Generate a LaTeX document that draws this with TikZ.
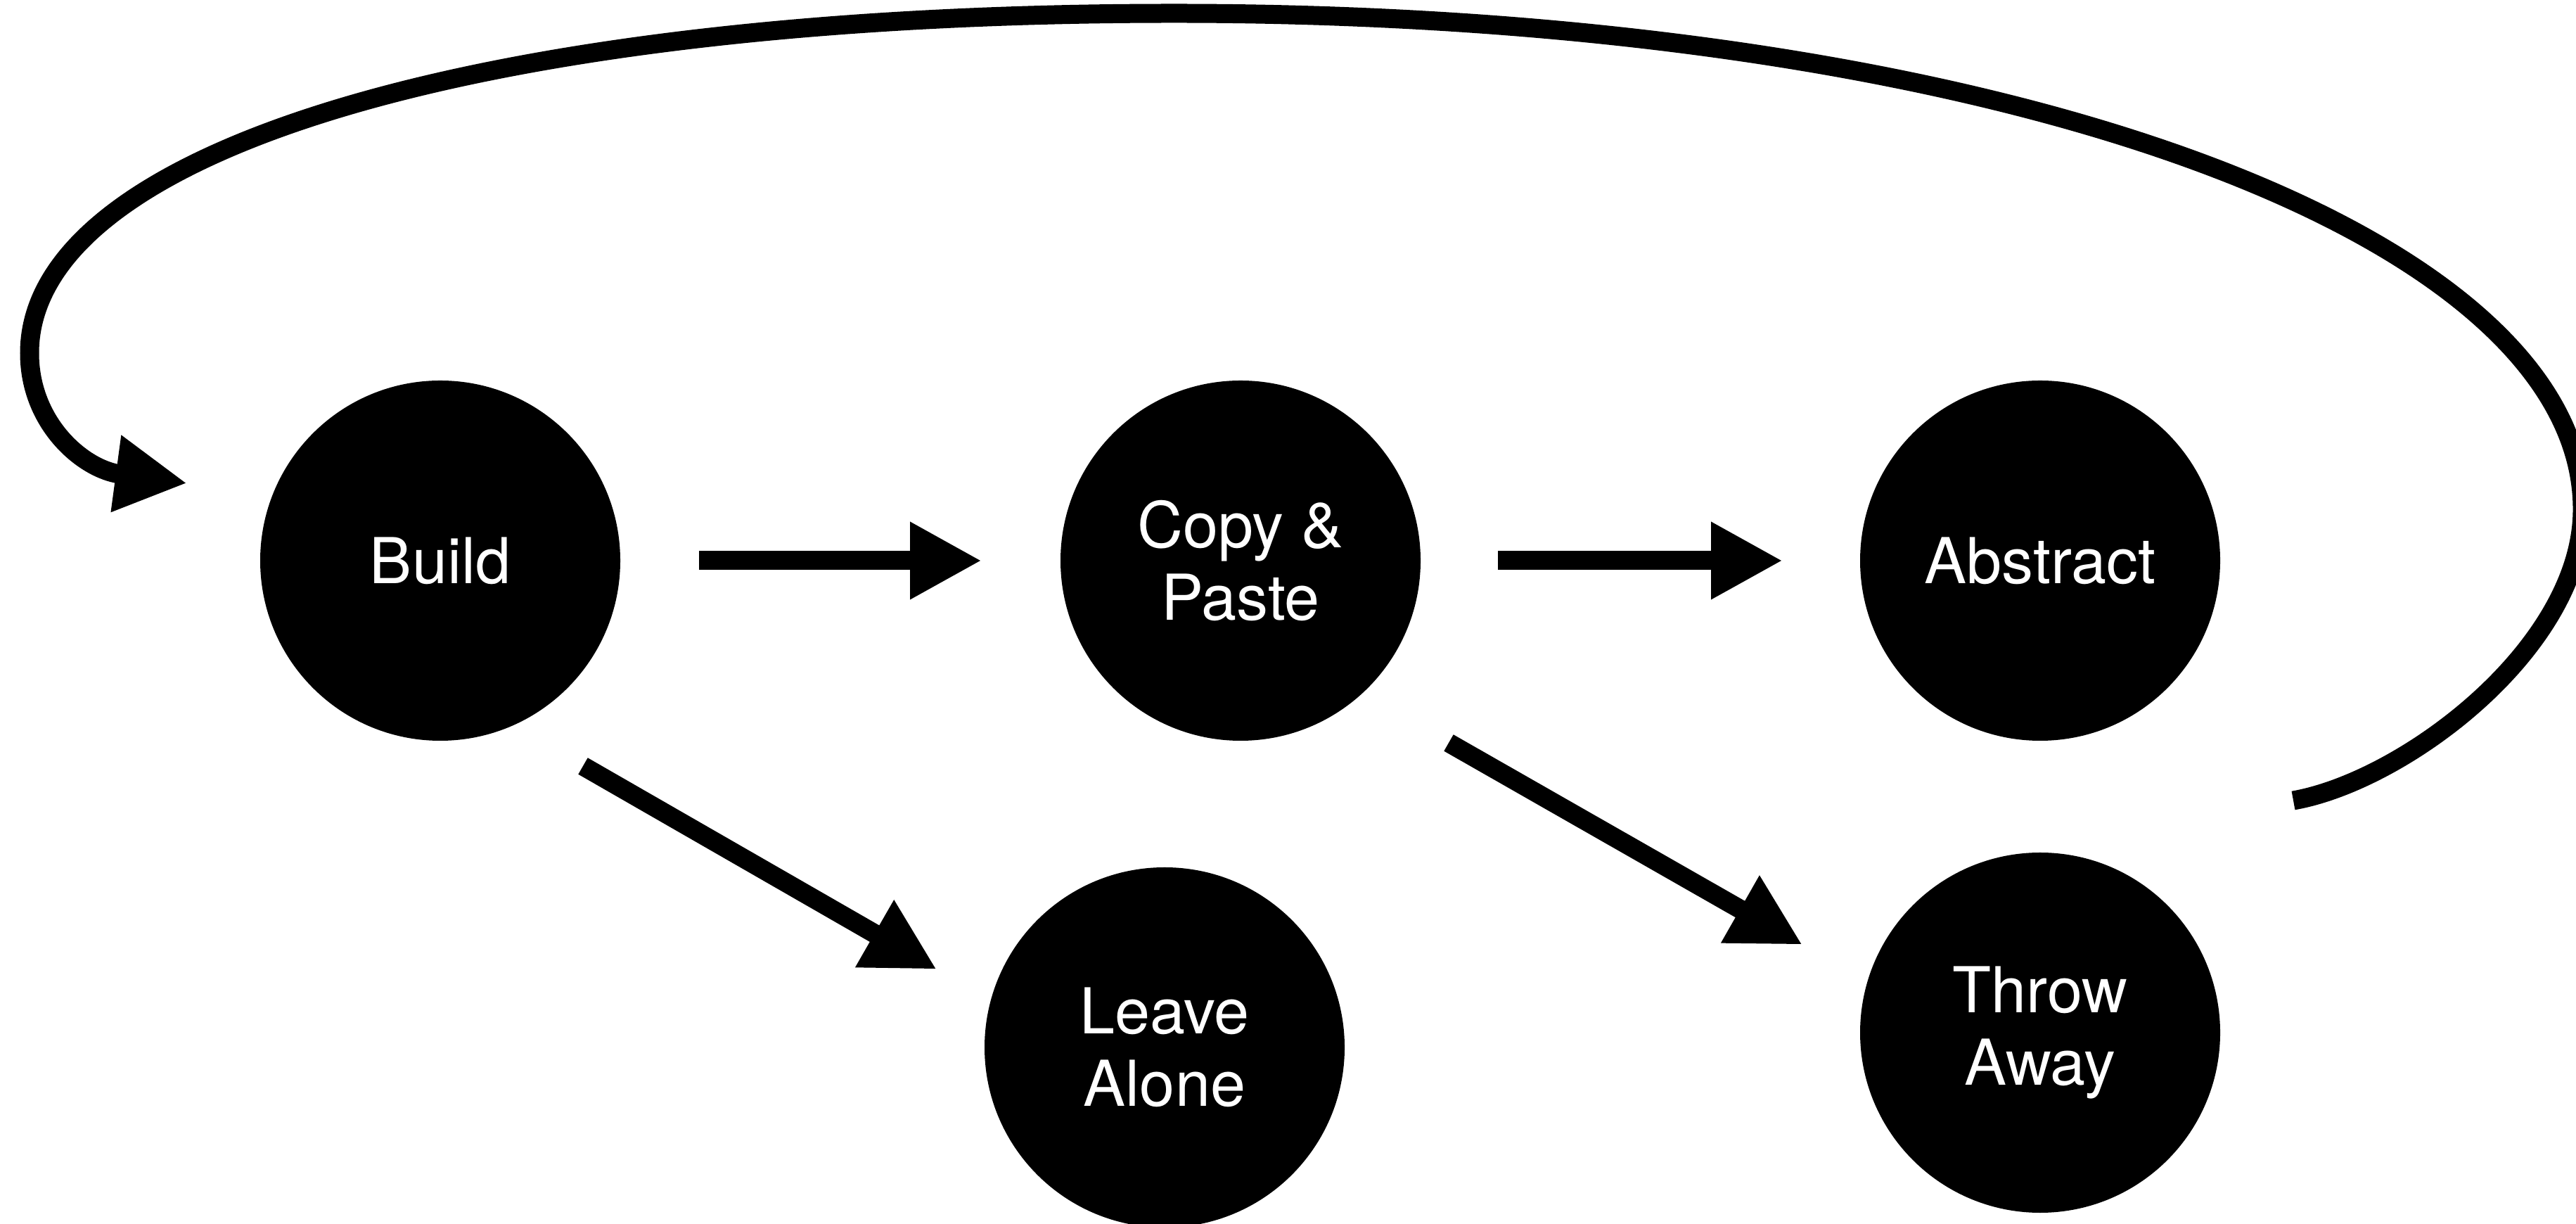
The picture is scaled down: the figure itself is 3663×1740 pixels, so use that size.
\documentclass[tikz,border=0pt]{standalone}
\usepackage{fontspec}
\setmainfont{TeX Gyre Heros}
\usetikzlibrary{arrows.meta,calc}
\begin{document}
\begin{tikzpicture}[x=0.2pt,y=-0.2pt,
  stage/.style={circle, fill=black, text=white, minimum size=102.4pt, inner sep=0pt, outer sep=0pt, align=center, font=\fontsize{18pt}{20.6pt}\selectfont},
  flow/.style={line width=5.4pt, -{Triangle[length=20.4pt,width=20.6pt]}},
  ]
\useasboundingbox (0,0) rectangle (3663,1740);
\node[stage] (build) at (626,797) {Build};
\node[stage] (copy) at (1764,797) {Copy \&\\Paste};
\node[stage] (abstract) at (2901,797) {Abstract};
\node[stage] (leave) at (1656,1489) {Leave\\Alone};
\node[stage] (throw) at (2901,1468) {Throw\\Away};

\draw[flow, shorten <=22.4pt, shorten >=22.4pt] (build.east) -- (copy.west);
\draw[flow, shorten <=22pt, shorten >=22pt] (copy.east) -- (abstract.west);
\draw[flow] ($(build)+(203,292)$) -- ($(leave)+(-324,-111)$);
\draw[flow] ($(copy)+(296,259)$) -- ($(throw)+(-338,-125)$);

\coordinate (loopstart) at ($(throw)+(360,-330)$);
\coordinate (loopend) at ($(build)+(-360,-110)$);
\draw[flow] (loopstart) .. controls (3420,1110) and (3672,920) .. (3672,724)
  .. controls (3672,335) and (2850,19) .. (1670,19)
  .. controls (693,19) and (42,212) .. (42,502)
  .. controls (42,602) and (118,667) .. (loopend);
\end{tikzpicture}
\end{document}
